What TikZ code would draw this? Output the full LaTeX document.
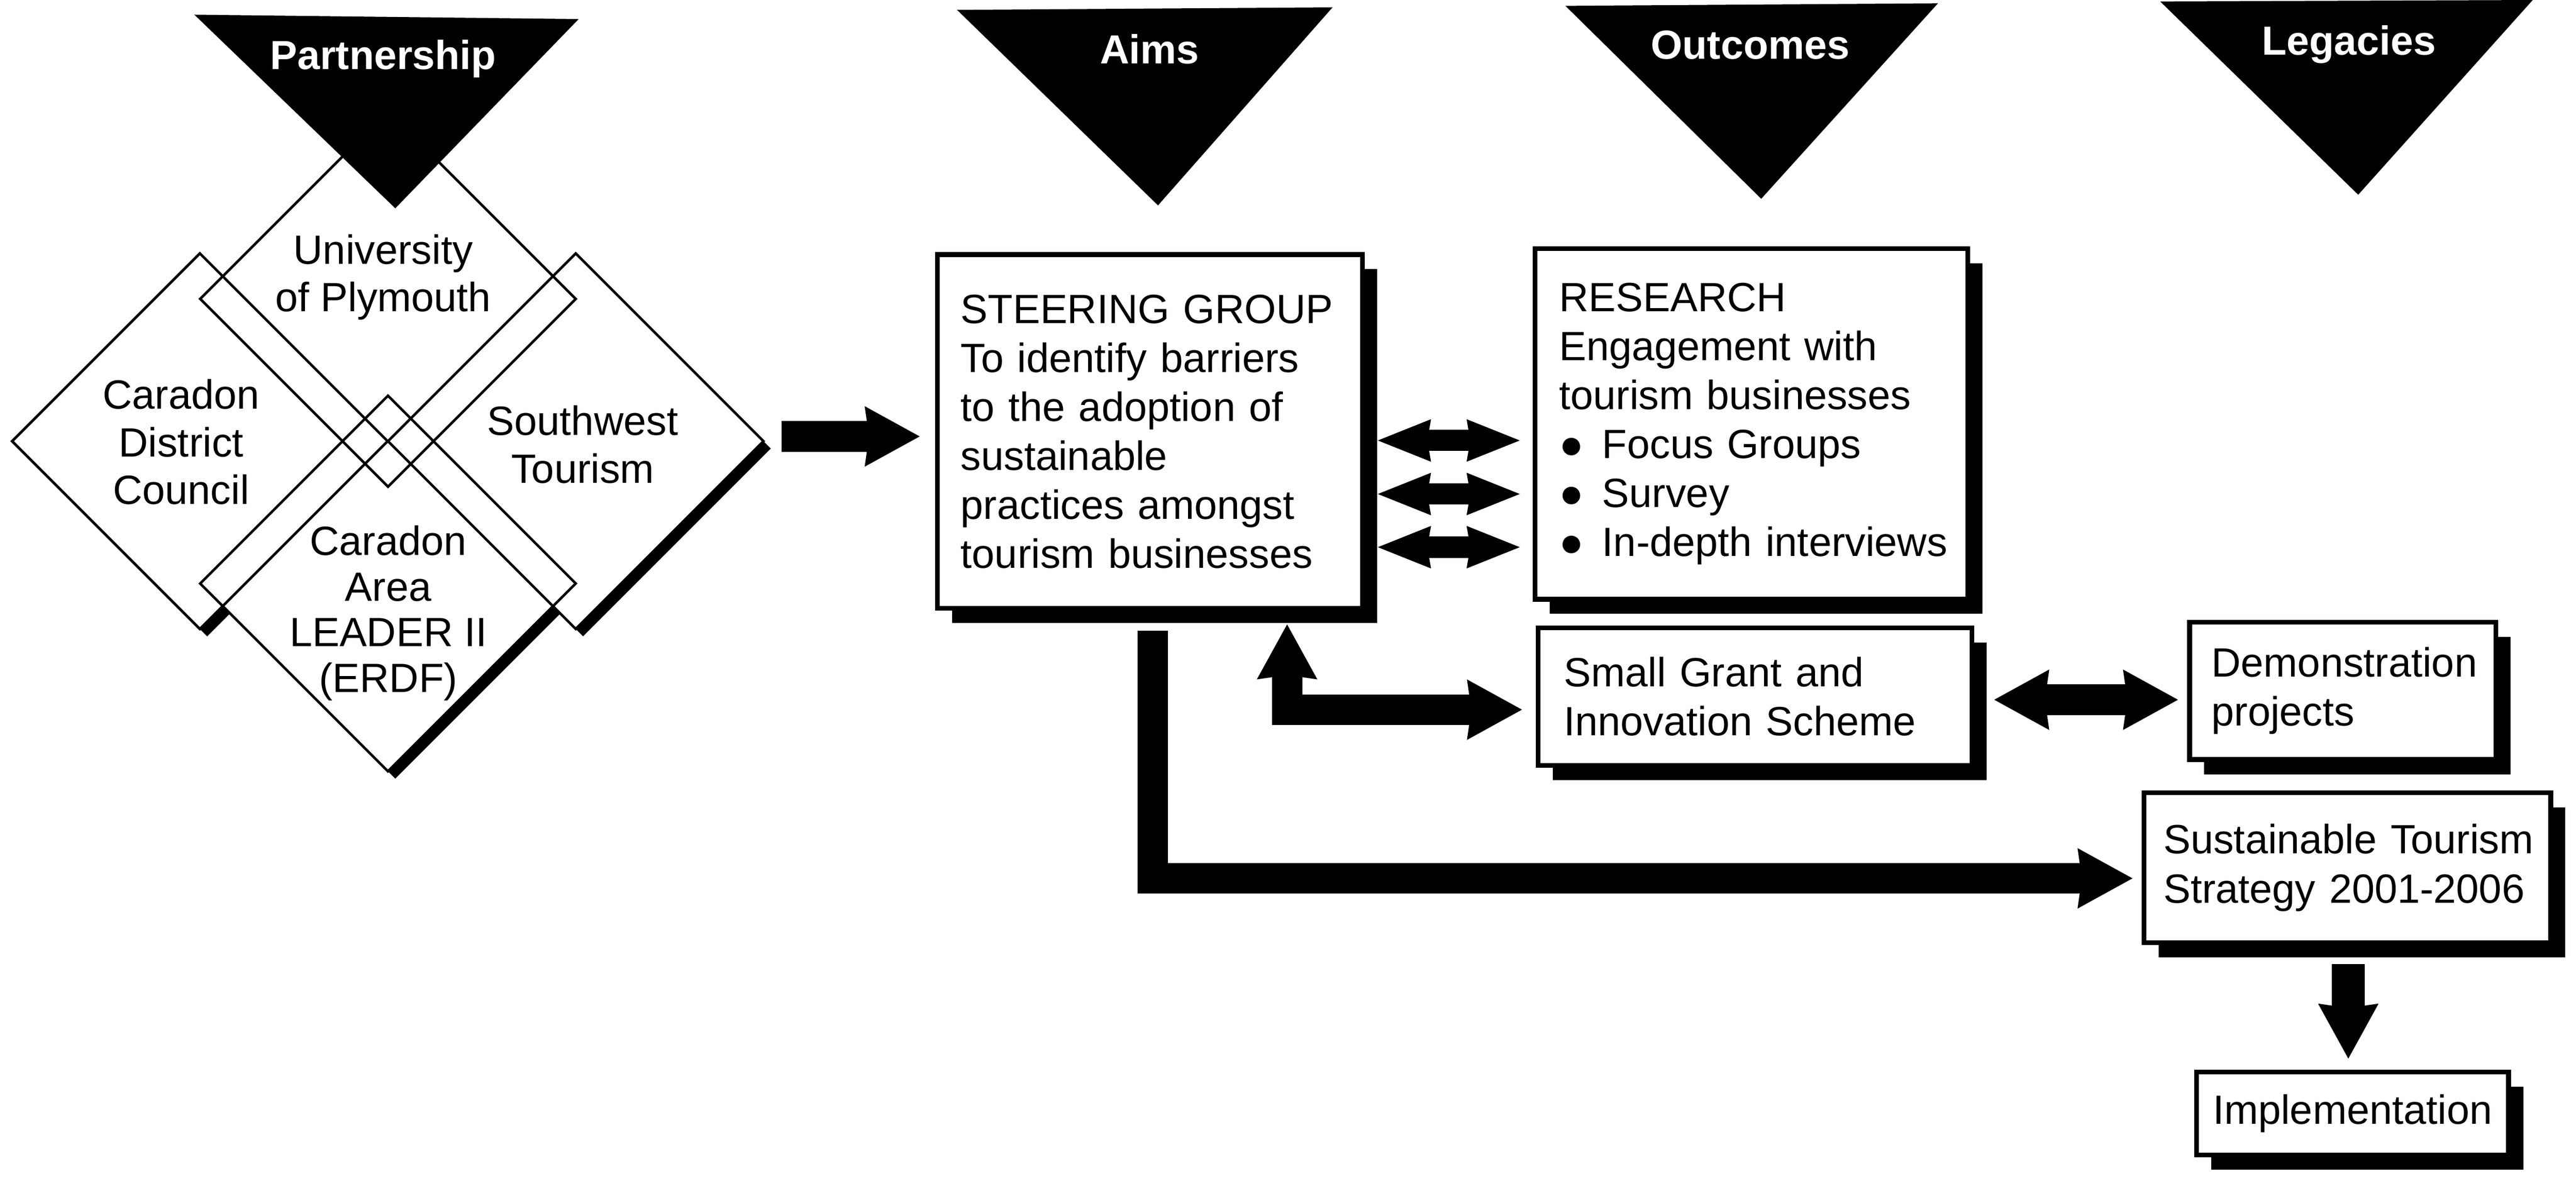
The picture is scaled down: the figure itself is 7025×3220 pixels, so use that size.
\documentclass[tikz,border=0pt]{standalone}
\usepackage{fontspec}
\setmainfont{Liberation Sans}
\usetikzlibrary{arrows.meta,shadows}
\newcommand\bdyfont{\fontsize{31.7}{38}\selectfont}
\newcommand\dfnt{\fontsize{31.7}{37}\selectfont}
\newcommand\afnt{\fontsize{31.7}{35.5}\selectfont}
\newcommand\hdfnt{\bfseries\fontsize{31.5}{38}\selectfont}
\newcommand\blt{●\hspace{0.45em}}
\tikzset{
  bigtip/.tip={Stealth[length=15mm,width=16.5mm,inset=1.2mm,line width=0pt]},
  smalltip/.tip={Stealth[length=14.5mm,width=11.6mm,inset=1mm,line width=0pt]},
  fatarrow/.style={draw=black,line width=8.3mm,line join=miter,-bigtip},
  fatdbl/.style={draw=black,line width=8.3mm,line join=miter,bigtip-bigtip},
  thindbl/.style={draw=black,line width=5.8mm,smalltip-smalltip},
  box/.style={draw=black,line width=1.3mm,fill=white,font=\bdyfont,inner ysep=0pt,
    drop shadow={shadow xshift=4mm,shadow yshift=-4mm,fill=black,opacity=1}},
  dtext/.style={align=center,inner sep=0pt,font=\dfnt},
  htext/.style={text=white,font=\hdfnt,inner sep=0pt,anchor=base},
  diamline/.style={draw=black,line width=0.7mm,line join=miter},
}
\begin{document}
\begin{tikzpicture}[x=0.1mm,y=-0.1mm]
\useasboundingbox (0,0) rectangle (7025,3220);
\fill[white] (0,0) rectangle (7025,3220);

% diamonds: shadows, fills, outlines
\foreach \cx/\cy in {1058/815,545/1203,1570/1203,1058/1591}{
  \fill[black] (\cx+20,\cy+20) ++(0,-512) -- ++(512,512) -- ++(-512,512) -- ++(-512,-512) -- cycle;
}
\foreach \cx/\cy in {1058/815,545/1203,1570/1203,1058/1591}{
  \fill[white] (\cx,\cy) ++(0,-512) -- ++(512,512) -- ++(-512,512) -- ++(-512,-512) -- cycle;
}
\foreach \cx/\cy in {1058/815,545/1203,1570/1203,1058/1591}{
  \draw[diamline] (\cx,\cy) ++(0,-512) -- ++(512,512) -- ++(-512,512) -- ++(-512,-512) -- cycle;
}

% header triangles
\fill[black] (530,40) -- (1578,52) -- (1078,568) -- cycle;
\fill[black] (2610,27) -- (3634,20) -- (3158,560) -- cycle;
\fill[black] (4269,16) -- (5285,9) -- (4803,542) -- cycle;
\fill[black] (5891,4) -- (6907,0) -- (6431,531) -- cycle;
\node[htext] (hpart) at (1045,189) {Partnership};
\node[htext] (haims) at (3135,174) {Aims};
\node[htext] (hout) at (4773,161) {Outcomes};
\node[htext] (hleg) at (6406,150) {Legacies};

% diamond texts
\node[dtext] (tuniv) at (1045,756) {University\\of Plymouth};
\node[dtext] (tdist) at (494,1205) {Caradon\\District\\Council};
\node[dtext] (tswt) at (1589,1212) {Southwest\\Tourism};
\node[dtext,font=\afnt] (tarea) at (1059,1672) {Caradon\\Area\\LEADER II\\(ERDF)};

% boxes
\node[box,align=left,text width=103.2mm,inner xsep=6.4mm,minimum height=96.5mm] (steer) at (3136,1176.5)
  {\mbox{STEERING GROUP}\\\mbox{To identify barriers}\\\mbox{to the adoption of}\\\mbox{sustainable}\\\mbox{practices amongst}\\\mbox{tourism businesses}};
\node[box,align=left,text width=104.8mm,inner xsep=6.6mm,minimum height=95.6mm] (research) at (4776,1156)
  {\mbox{RESEARCH}\\\mbox{Engagement with}\\\mbox{tourism businesses}\\\mbox{\blt Focus Groups}\\\mbox{\blt Survey}\\\mbox{\blt In-depth interviews}};
\node[box,align=left,text width=104.3mm,inner xsep=7mm,minimum height=37.5mm] (small) at (4786.5,1899.5)
  {\mbox{Small Grant and}\\\mbox{Innovation Scheme}};
\node[box,align=left,text width=71.5mm,inner xsep=6mm,minimum height=37.4mm] (demo) at (6388.5,1884)
  {\mbox{Demonstration}\\\mbox{projects}};
\node[box,align=left,text width=100.3mm,inner xsep=5.3mm,minimum height=40.8mm] (sust) at (6401.5,2366)
  {\mbox{Sustainable Tourism}\\\mbox{Strategy 2001-2006}};
\node[box,align=center,minimum width=85.1mm,inner xsep=0pt,minimum height=22.6mm] (impl) at (6415.5,3036)
  {Implementation};

% connectors
\coordinate (a0) at (2132,1190);
\draw[fatarrow,shorten >=4.15mm] (a0) -- (a0 -| steer.west);

\coordinate (l1) at (0,1201);
\coordinate (l2) at (0,1347);
\coordinate (l3) at (0,1492);
\draw[thindbl,shorten <=3.5mm,shorten >=3.5mm] (steer.east |- l1) -- (research.west |- l1);
\draw[thindbl,shorten <=3.5mm,shorten >=3.5mm] (steer.east |- l2) -- (research.west |- l2);
\draw[thindbl,shorten <=3.5mm,shorten >=3.5mm] (steer.east |- l3) -- (research.west |- l3);

\coordinate (g1) at (3510,1935);
\draw[fatdbl,shorten <=3.7mm,shorten >=3.8mm] (g1 |- steer.south) |- (small.west |- g1);

\coordinate (g2) at (0,1908);
\draw[fatdbl,shorten <=5.4mm,shorten >=2.5mm] (small.east |- g2) -- (demo.west |- g2);

\coordinate (g3) at (3143,2395);
\draw[fatarrow,shorten <=5.4mm,shorten >=2.5mm] (g3 |- steer.south) |- (sust.west |- g3);

\coordinate (g4) at (6404,0);
\draw[fatarrow,line width=9mm,shorten <=5.2mm,shorten >=3mm] (g4 |- sust.south) -- (g4 |- impl.north);
\end{tikzpicture}
\end{document}
